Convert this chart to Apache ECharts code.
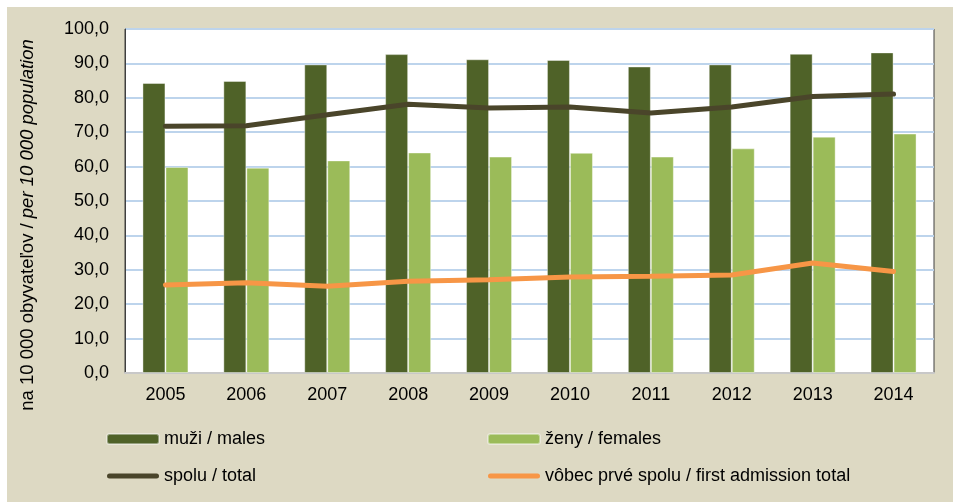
<!DOCTYPE html>
<html>
<head>
<meta charset="utf-8">
<script src="https://cdn.jsdelivr.net/npm/echarts@6/dist/echarts.min.js"></script>
<style>
html,body{margin:0;padding:0;background:#fff;}
#c{width:953px;height:502px;}
</style>
</head>
<body>
<div id="c"></div>
<script>
const years = ['2005','2006','2007','2008','2009','2010','2011','2012','2013','2014'];
const males = [84.3, 84.9, 89.7, 92.7, 91.2, 91.0, 89.1, 89.7, 92.8, 93.2];
const females = [59.9, 59.7, 61.8, 64.1, 62.9, 64.0, 62.9, 65.3, 68.7, 69.6];
const total = [71.7, 71.9, 75.1, 78.1, 77.0, 77.3, 75.6, 77.3, 80.4, 81.1];
const firstAdmission = [25.6, 26.2, 25.2, 26.7, 27.1, 27.9, 28.1, 28.5, 32.0, 29.5];
const names = ['muži / males', 'ženy / females', 'spolu / total', 'vôbec prvé spolu / first admission total'];

const font = '"Liberation Sans", Arial, sans-serif';
const lineIcon = 'path://M2.5,0 L49.5,0 A2.5,2.5 0 0 1 49.5,5 L2.5,5 A2.5,2.5 0 0 1 2.5,0 Z';
const chart = echarts.init(document.getElementById('c'), null, {renderer: 'canvas'});
const legendText = {fontSize: 18, color: '#000', fontFamily: font};
chart.setOption({
  animation: false,
  backgroundColor: '#fff',
  textStyle: {fontFamily: font},
  graphic: [
    {type: 'rect', z: -10, shape: {x: 7, y: 7, width: 946, height: 495}, style: {fill: '#DDD9C3'}},
    {type: 'text', z: 10, x: 28, y: 225, rotation: Math.PI / 2,
      style: {
        text: '{a|na 10 000 obyvateľov / }{b|per 10 000 population}',
        align: 'center', verticalAlign: 'middle',
        rich: {
          a: {fontSize: 18.5, fontFamily: font, fill: '#000'},
          b: {fontSize: 18.5, fontFamily: font, fontStyle: 'italic', fill: '#000'}
        }
      }}
  ],
  grid: {left: 125, top: 29, right: 19, bottom: 129, show: true, backgroundColor: '#fff', borderColor: '#404040', borderWidth: 1},
  legend: [
    {left: 106, top: 430, orient: 'vertical', padding: 0, itemGap: 19, itemWidth: 52, itemHeight: 10,
      data: [{name: names[0]}, {name: names[2], icon: lineIcon, itemStyle: {color: '#4A452A'}}], textStyle: legendText},
    {left: 487, top: 430, orient: 'vertical', padding: 0, itemGap: 19, itemWidth: 52, itemHeight: 10,
      data: [{name: names[1]}, {name: names[3], icon: lineIcon, itemStyle: {color: '#F79646'}}], textStyle: legendText}
  ],
  xAxis: {
    type: 'category', data: years,
    axisLine: {lineStyle: {color: '#C8C8C8', width: 2}},
    axisTick: {show: false},
    axisLabel: {fontSize: 18, color: '#000', margin: 13, fontFamily: font}
  },
  yAxis: {
    type: 'value', min: 0, max: 100, interval: 10,
    axisLine: {show: true, lineStyle: {color: '#404040', width: 1}},
    axisTick: {show: false},
    axisLabel: {fontSize: 18, color: '#000', margin: 16, fontFamily: font,
      formatter: v => v.toFixed(1).replace('.', ',')},
    splitLine: {lineStyle: {color: '#BDD4EC', width: 2}}
  },
  series: [
    {name: names[0], type: 'bar', data: males, barWidth: 23, barGap: '0%',
      itemStyle: {color: '#4F6228', borderColor: 'rgba(255,255,255,0.4)', borderWidth: 1}},
    {name: names[1], type: 'bar', data: females, barWidth: 23, barGap: '0%',
      itemStyle: {color: '#9BBB59', borderColor: 'rgba(255,255,255,0.4)', borderWidth: 1}},
    {name: names[2], type: 'line', data: total, symbol: 'none', z: 5,
      lineStyle: {color: '#4A452A', width: 5, cap: 'round'}, itemStyle: {color: '#4A452A'}},
    {name: names[3], type: 'line', data: firstAdmission, symbol: 'none', z: 5,
      lineStyle: {color: '#F79646', width: 5, cap: 'round'}, itemStyle: {color: '#F79646'}}
  ]
});
</script>
</body>
</html>
